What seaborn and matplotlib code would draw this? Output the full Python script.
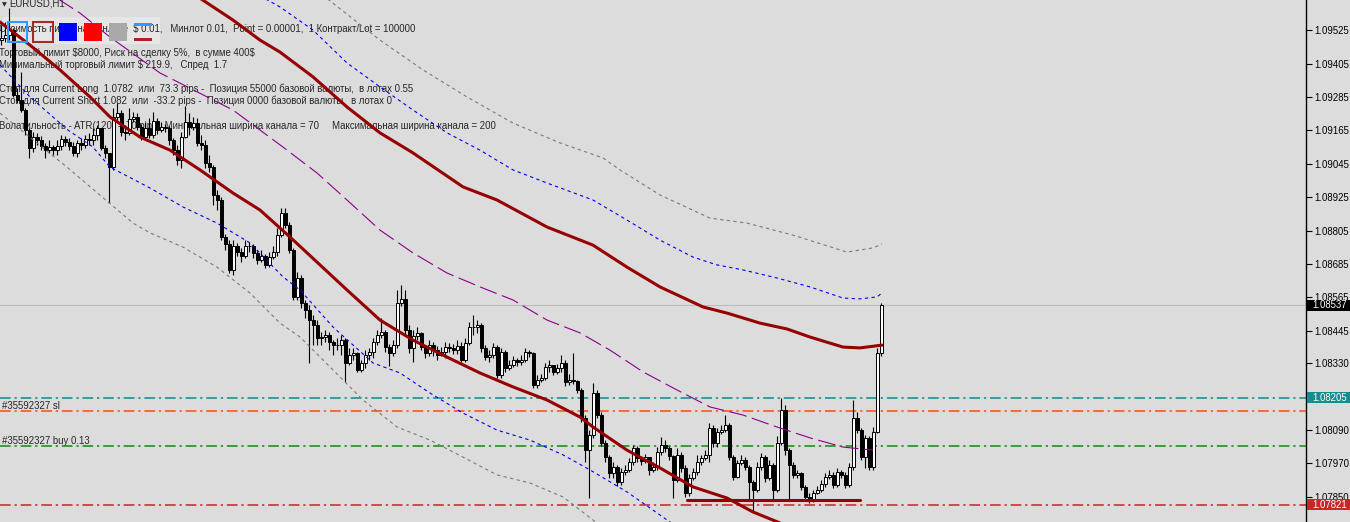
import numpy as np
import pandas as pd
import matplotlib
matplotlib.use("Agg")
import matplotlib.pyplot as plt
from matplotlib.patches import Rectangle
import seaborn as sns

sns.set_style("white", {"axes.facecolor": "#dcdcdc", "figure.facecolor": "#dcdcdc"})
plt.rcParams["font.family"] = ["Liberation Sans", "DejaVu Sans"]
plt.rcParams["text.parse_math"] = False

# ---- EURUSD H1 candles (prices) ----
first_open = 1.09489
closes = [
    1.09497, 1.09507, 1.09525, 1.09292, 1.09274, 1.09238, 1.09166, 1.09102, 1.09141, 1.09130,
    1.09109, 1.09094, 1.09105, 1.09094, 1.09109, 1.09134, 1.09123, 1.09109, 1.09084, 1.09120,
    1.09112, 1.09134, 1.09130, 1.09148, 1.09173, 1.09102, 1.09084, 1.09033, 1.09213, 1.09227,
    1.09159, 1.09156, 1.09206, 1.09213, 1.09177, 1.09141, 1.09173, 1.09148, 1.09199, 1.09166,
    1.09177, 1.09173, 1.09130, 1.09094, 1.09059, 1.09141, 1.09195, 1.09177, 1.09191, 1.09120,
    1.09112, 1.09048, 1.09033, 1.08933, 1.08915, 1.08782, 1.08757, 1.08664, 1.08750, 1.08728,
    1.08714, 1.08750, 1.08750, 1.08725, 1.08700, 1.08714, 1.08682, 1.08710, 1.08728, 1.08789,
    1.08868, 1.08825, 1.08735, 1.08567, 1.08635, 1.08545, 1.08520, 1.08484, 1.08466, 1.08420,
    1.08423, 1.08430, 1.08405, 1.08394, 1.08394, 1.08412, 1.08330, 1.08359, 1.08366, 1.08305,
    1.08330, 1.08359, 1.08369, 1.08405, 1.08430, 1.08441, 1.08387, 1.08366, 1.08394, 1.08545,
    1.08560, 1.08448, 1.08384, 1.08427, 1.08438, 1.08387, 1.08366, 1.08394, 1.08376, 1.08359,
    1.08369, 1.08387, 1.08384, 1.08376, 1.08391, 1.08341, 1.08402, 1.08459, 1.08459, 1.08466,
    1.08384, 1.08351, 1.08359, 1.08387, 1.08287, 1.08369, 1.08312, 1.08323, 1.08341, 1.08333,
    1.08341, 1.08369, 1.08366, 1.08251, 1.08269, 1.08276, 1.08315, 1.08323, 1.08298, 1.08312,
    1.08330, 1.08262, 1.08269, 1.08265, 1.08233, 1.08132, 1.08017, 1.08071, 1.08222, 1.08143,
    1.08043, 1.07992, 1.07935, 1.07956, 1.07903, 1.07939, 1.07946, 1.07974, 1.08025, 1.07989,
    1.07978, 1.07992, 1.07946, 1.07956, 1.08010, 1.08035, 1.08025, 1.07996, 1.07910, 1.08000,
    1.07953, 1.07863, 1.07917, 1.07939, 1.07974, 1.07989, 1.08000, 1.08097, 1.08043, 1.08082,
    1.08089, 1.08107, 1.07992, 1.07921, 1.07971, 1.07982, 1.07956, 1.07903, 1.07874, 1.07956,
    1.07992, 1.07917, 1.07964, 1.07874, 1.08043, 1.08161, 1.08017, 1.07964, 1.07928, 1.07935,
    1.07885, 1.07849, 1.07838, 1.07863, 1.07874, 1.07895, 1.07921, 1.07928, 1.07892, 1.07939,
    1.07928, 1.07892, 1.07956, 1.08132, 1.08089, 1.07992, 1.08061, 1.07956, 1.08082, 1.08366,
    1.08537,
]
highs = [
    1.09543, 1.09554, 1.09604, 1.09532, 1.09317, 1.09375, 1.09245, 1.09173, 1.09159, 1.09156,
    1.09145, 1.09120, 1.09130, 1.09112, 1.09130, 1.09148, 1.09145, 1.09138, 1.09123, 1.09130,
    1.09138, 1.09148, 1.09156, 1.09173, 1.09184, 1.09173, 1.09112, 1.09059, 1.09245, 1.09263,
    1.09238, 1.09184, 1.09245, 1.09231, 1.09227, 1.09188, 1.09195, 1.09209, 1.09231, 1.09209,
    1.09195, 1.09188, 1.09181, 1.09138, 1.09112, 1.09159, 1.09252, 1.09227, 1.09213, 1.09209,
    1.09148, 1.09130, 1.09077, 1.09041, 1.08951, 1.08926, 1.08793, 1.08771, 1.08771, 1.08761,
    1.08743, 1.08771, 1.08764, 1.08757, 1.08735, 1.08735, 1.08721, 1.08728, 1.08750, 1.08814,
    1.08886, 1.08886, 1.08836, 1.08743, 1.08657, 1.08646, 1.08556, 1.08538, 1.08502, 1.08484,
    1.08441, 1.08448, 1.08441, 1.08412, 1.08420, 1.08430, 1.08420, 1.08384, 1.08384, 1.08369,
    1.08341, 1.08376, 1.08384, 1.08420, 1.08448, 1.08491, 1.08448, 1.08398, 1.08412, 1.08592,
    1.08610, 1.08592, 1.08466, 1.08448, 1.08459, 1.08441, 1.08394, 1.08412, 1.08405, 1.08391,
    1.08387, 1.08405, 1.08402, 1.08398, 1.08412, 1.08405, 1.08420, 1.08477, 1.08502, 1.08484,
    1.08473, 1.08394, 1.08376, 1.08402, 1.08394, 1.08384, 1.08376, 1.08341, 1.08355, 1.08348,
    1.08359, 1.08384, 1.08376, 1.08369, 1.08287, 1.08290, 1.08330, 1.08341, 1.08323, 1.08326,
    1.08359, 1.08341, 1.08290, 1.08366, 1.08269, 1.08240, 1.08143, 1.08089, 1.08258, 1.08233,
    1.08154, 1.08053, 1.08000, 1.07974, 1.07964, 1.07953, 1.07964, 1.07989, 1.08035, 1.08032,
    1.07996, 1.08003, 1.07989, 1.07974, 1.08028, 1.08064, 1.08053, 1.08032, 1.08000, 1.08025,
    1.08010, 1.07964, 1.07931, 1.07953, 1.08000, 1.08000, 1.08017, 1.08114, 1.08107, 1.08097,
    1.08107, 1.08143, 1.08114, 1.08000, 1.07982, 1.08000, 1.07992, 1.07964, 1.07910, 1.07974,
    1.08007, 1.08000, 1.07982, 1.07971, 1.08068, 1.08204, 1.08179, 1.08025, 1.07974, 1.07946,
    1.07939, 1.07892, 1.07863, 1.07874, 1.07888, 1.07910, 1.07935, 1.07946, 1.07939, 1.07953,
    1.07946, 1.07939, 1.07971, 1.08197, 1.08154, 1.08097, 1.08071, 1.08068, 1.08100, 1.08384,
    1.08545,
]
lows = [
    1.09471, 1.09482, 1.09489, 1.09285, 1.09263, 1.09231, 1.09148, 1.09066, 1.09087, 1.09112,
    1.09094, 1.09066, 1.09084, 1.09077, 1.09077, 1.09094, 1.09109, 1.09094, 1.09073, 1.09069,
    1.09094, 1.09102, 1.09112, 1.09112, 1.09130, 1.09094, 1.09066, 1.08904, 1.09023, 1.09202,
    1.09145, 1.09130, 1.09148, 1.09195, 1.09166, 1.09130, 1.09130, 1.09138, 1.09138, 1.09152,
    1.09159, 1.09159, 1.09112, 1.09077, 1.09041, 1.09030, 1.09138, 1.09148, 1.09166, 1.09109,
    1.09094, 1.09030, 1.09016, 1.08897, 1.08879, 1.08771, 1.08735, 1.08653, 1.08646, 1.08714,
    1.08692, 1.08707, 1.08728, 1.08707, 1.08685, 1.08692, 1.08671, 1.08674, 1.08703, 1.08714,
    1.08782, 1.08814, 1.08725, 1.08556, 1.08556, 1.08527, 1.08491, 1.08330, 1.08394, 1.08394,
    1.08394, 1.08405, 1.08376, 1.08359, 1.08376, 1.08359, 1.08262, 1.08323, 1.08341, 1.08298,
    1.08298, 1.08312, 1.08341, 1.08348, 1.08394, 1.08420, 1.08369, 1.08319, 1.08355, 1.08384,
    1.08534, 1.08434, 1.08366, 1.08333, 1.08412, 1.08376, 1.08348, 1.08355, 1.08355, 1.08341,
    1.08355, 1.08348, 1.08369, 1.08362, 1.08362, 1.08333, 1.08333, 1.08394, 1.08430, 1.08438,
    1.08369, 1.08341, 1.08333, 1.08348, 1.08276, 1.08276, 1.08298, 1.08305, 1.08315, 1.08319,
    1.08323, 1.08333, 1.08351, 1.08240, 1.08240, 1.08262, 1.08269, 1.08298, 1.08287, 1.08290,
    1.08298, 1.08247, 1.08251, 1.08254, 1.08222, 1.08118, 1.07974, 1.07845, 1.08061, 1.08132,
    1.08032, 1.07974, 1.07917, 1.07917, 1.07888, 1.07892, 1.07928, 1.07939, 1.07964, 1.07974,
    1.07964, 1.07971, 1.07928, 1.07939, 1.07946, 1.08000, 1.08010, 1.07982, 1.07845, 1.07903,
    1.07939, 1.07849, 1.07852, 1.07910, 1.07928, 1.07964, 1.07982, 1.07974, 1.08028, 1.08028,
    1.08075, 1.08082, 1.07982, 1.07910, 1.07917, 1.07964, 1.07946, 1.07838, 1.07795, 1.07867,
    1.07946, 1.07903, 1.07910, 1.07838, 1.07867, 1.08035, 1.08000, 1.07838, 1.07917, 1.07917,
    1.07874, 1.07838, 1.07827, 1.07831, 1.07860, 1.07867, 1.07885, 1.07913, 1.07881, 1.07885,
    1.07917, 1.07881, 1.07885, 1.07946, 1.08079, 1.07982, 1.07953, 1.07946, 1.07946, 1.08079,
    1.08355,
]

# ---- indicator lines: bar position, price ----
ma_fast_bar = [-0.25, 7.25, 14.75, 22.25, 27.25, 34.75, 42.25, 49.75, 58, 64.75, 72.25, 79.75, 86.5,
               94.75, 103, 111.5, 119.75, 128, 136.5, 144.75, 148, 156.5, 164.75, 173, 181.5, 188, 197.25]
ma_fast = [1.09554, 1.09471, 1.09382, 1.09285, 1.09213, 1.09141, 1.09094, 1.09023, 1.08940, 1.08879,
           1.08782, 1.08682, 1.08592, 1.08484, 1.08412, 1.08351, 1.08294, 1.08244, 1.08197, 1.08136,
           1.08100, 1.08017, 1.07953, 1.07885, 1.07845, 1.07795, 1.07741]

ma_slow_bar = [49.25, 58, 64.75, 69.75, 78, 86.5, 94.75, 103, 115.5, 124, 136.5, 148, 156.5, 164.75,
               175.5, 181.5, 189.75, 196.5, 202.25, 210.5, 214.75, 220.25]
ma_slow = [1.09644, 1.09561, 1.09489, 1.09446, 1.09357, 1.09249, 1.09156, 1.09084, 1.08962, 1.08915,
           1.08818, 1.08753, 1.08674, 1.08603, 1.08531, 1.08509, 1.08473, 1.08452, 1.08423, 1.08387,
           1.08384, 1.08394]

blue_up_bar = [65.25, 69.75, 78, 86.5, 94.75, 103, 111.5, 119.75, 128, 136.5, 148, 156.5, 164.75,
               173, 179, 185.5, 194, 202.25, 210.5, 214.75, 219, 220.25]
blue_up = [1.09644, 1.09608, 1.09525, 1.09407, 1.09321, 1.09238, 1.09156, 1.09094, 1.09023, 1.08976,
           1.08915, 1.08843, 1.08771, 1.08710, 1.08682, 1.08664, 1.08635, 1.08603, 1.08563, 1.08560,
           1.08567, 1.08581]

grey_up_bar = [81, 94.75, 105.5, 116.5, 128, 139.75, 150.5, 154.75, 164.75, 177.25, 186.5, 198,
               211.5, 218, 220.25]
grey_up = [1.09644, 1.09489, 1.09382, 1.09285, 1.09191, 1.09120, 1.09066, 1.09023, 1.08933, 1.08850,
           1.08832, 1.08789, 1.08728, 1.08743, 1.08757]

purple_bar = [13.5, 19.75, 27.25, 39.75, 58, 70.5, 79, 86.5, 94.75, 103, 111.5, 119.75, 128, 136.5,
              144.75, 152.25, 160.5, 169, 177.25, 185.5, 194, 202.25, 210.5, 218]
purple = [1.09644, 1.09586, 1.09500, 1.09371, 1.09238, 1.09105, 1.09012, 1.08915, 1.08807, 1.08725,
          1.08653, 1.08603, 1.08556, 1.08484, 1.08438, 1.08376, 1.08298, 1.08233, 1.08172, 1.08143,
          1.08100, 1.08061, 1.08028, 1.08017]

blue_dn_bar = [-0.25, 7.25, 16.75, 23, 27.25, 37.25, 45.5, 54, 62.25, 70.5, 74.75, 83, 93, 99.75,
               107.25, 115.5, 124, 132.25, 140.5, 147.25, 156.5, 167.25, 172.25]
blue_dn = [1.09400, 1.09285, 1.09166, 1.09105, 1.09033, 1.08958, 1.08890, 1.08832, 1.08761, 1.08639,
           1.08592, 1.08459, 1.08330, 1.08294, 1.08222, 1.08150, 1.08089, 1.08053, 1.08000, 1.07946,
           1.07867, 1.07759, 1.07716]

grey_dn_bar = [-0.25, 16.5, 33, 37.25, 45.5, 54, 62.25, 69.75, 74.75, 83, 90.5, 99, 107.25, 115.5,
               124, 132.25, 140.5, 148, 151]
grey_dn = [1.09227, 1.09033, 1.08832, 1.08797, 1.08746, 1.08674, 1.08581, 1.08473, 1.08423, 1.08305,
           1.08197, 1.08100, 1.08053, 1.07992, 1.07928, 1.07899, 1.07849, 1.07766, 1.07730]

support_bar = [171.5, 214.75]
support_price = 1.07838

bid = 1.08537
tp_level = 1.08205
sl_level = 1.08158
buy_level = 1.08032
stop_level = 1.07821

tick_prices = [1.09525, 1.09405, 1.09285, 1.09165, 1.09045, 1.08925, 1.08805, 1.08685, 1.08565,
               1.08445, 1.08330, 1.08090, 1.07970, 1.07850]

info_lines = [
    "Стоимость пипса на минлоте  $ 0.01,   Минлот 0.01,  Point = 0.00001,  1 Контракт/Lot = 100000",
    "Торговый лимит $8000, Риск на сделку 5%,  в сумме 400$",
    "Минимальный торговый лимит $ 219.9,   Спред  1.7",
    "Стоп для Current Long  1.0782  или  73.3 pips -  Позиция 55000 базовой валюты,  в лотах 0.55",
    "Стоп для Current Short 1.082  или  -33.2 pips -  Позиция 0000 базовой валюты,  в лотах 0",
    "Волатильность - ATR(120) = 70 pips   Минимальная ширина канала = 70     Максимальная ширина канала = 200",
]
info_y = [29, 53, 65, 89, 101, 126]

W, H = 1350, 522
FS = 6.9
fig = plt.figure(figsize=(W / 100, H / 100), dpi=100)
ax = fig.add_axes([0, 0, 1306 / W, 1])
ax.set_facecolor("#dcdcdc")
ax.set_xlim(-0.25, 326.25)
ax.set_ylim(1.07759, 1.09633)


def fx(x):
    return x / W


def fy(y):
    return 1 - y / H


# candles
df = pd.DataFrame({"close": closes, "high": highs, "low": lows})
df["open"] = [first_open] + closes[:-1]
df["bar"] = np.arange(len(df))
df["high"] = df[["high", "open", "close"]].max(axis=1)
df["low"] = df[["low", "open", "close"]].min(axis=1)
up = df["close"] >= df["open"]
ax.vlines(df["bar"], df["low"], df["high"], color="black", lw=0.8, zorder=3)
ax.bar(df["bar"], df["close"] - df["open"], bottom=df["open"], width=0.75,
       color=np.where(up, "white", "black"), edgecolor="black", linewidth=0.7, zorder=3.5)

# horizontal order lines
dashdot = (0, (7, 2.5, 1.5, 2.5))
ax.axhline(bid, color="#bdbdbd", lw=0.8, zorder=2)
ax.axhline(tp_level, color="#0a8a8a", lw=1.1, ls=dashdot, zorder=2)
ax.axhline(sl_level, color="#ff4a10", lw=1.1, ls=dashdot, zorder=2)
ax.axhline(buy_level, color="#108a10", lw=1.1, ls=dashdot, zorder=2)
ax.axhline(stop_level, color="#d0202a", lw=1.1, ls=dashdot, zorder=2)

# indicator lines
sns.lineplot(x=grey_up_bar, y=grey_up, ax=ax, color="#7a7a7a", lw=0.8, ls=(0, (3, 3)), sort=False, zorder=4)
sns.lineplot(x=grey_dn_bar, y=grey_dn, ax=ax, color="#7a7a7a", lw=0.8, ls=(0, (3, 3)), sort=False, zorder=4)
sns.lineplot(x=blue_up_bar, y=blue_up, ax=ax, color="#0000ee", lw=0.8, ls=(0, (3, 3)), sort=False, zorder=4)
sns.lineplot(x=blue_dn_bar, y=blue_dn, ax=ax, color="#0000ee", lw=0.8, ls=(0, (3, 3)), sort=False, zorder=4)
sns.lineplot(x=purple_bar, y=purple, ax=ax, color="#8b008b", lw=0.8, ls=(0, (16, 5)), sort=False, zorder=4)
sns.lineplot(x=ma_slow_bar, y=ma_slow, ax=ax, color="#960000", lw=2.2, sort=False, zorder=4.5)
sns.lineplot(x=ma_fast_bar, y=ma_fast, ax=ax, color="#960000", lw=2.2, sort=False, zorder=4.5)
sns.lineplot(x=support_bar, y=[support_price, support_price], ax=ax, color="#960000", lw=2.2,
             sort=False, zorder=5)

# price scale on the right
ax.yaxis.tick_right()
ax.set_yticks(tick_prices)
ax.set_yticklabels([f"{p:.5f}" for p in tick_prices])
ax.tick_params(axis="y", direction="out", length=4, width=0.8, labelsize=FS, pad=2,
               colors="black", right=True, left=False)
ax.set_xticks([])
ax.set_xlabel("")
ax.set_ylabel("")
for s in ["left", "top", "bottom"]:
    ax.spines[s].set_visible(False)
ax.spines["right"].set_color("black")
ax.spines["right"].set_linewidth(1)

ytr = ax.get_yaxis_transform()
for price, bg in [(bid, "black"), (tp_level, "#138d8d"), (stop_level, "#c62828")]:
    ax.add_patch(Rectangle((1 + 1 / 1306, price - 0.0002), 43 / 1306, 0.0004, transform=ytr,
                           facecolor=bg, edgecolor="none", clip_on=False, zorder=10))
    ax.text(1 + 6 / 1306, price, f"{price:.5f}", transform=ytr, ha="left", va="center",
            color="white", fontsize=FS, clip_on=False, zorder=11)

# chart title, info text and buttons
tf = fig.transFigure
ax.text(fx(2), fy(5), "▼", transform=tf, fontsize=4.5, va="center", ha="left",
        family="DejaVu Sans", zorder=1)
ax.text(fx(9), fy(4), "EURUSD,H1", transform=tf, fontsize=FS, va="center", ha="left", zorder=1)
ax.add_patch(Rectangle((fx(3), fy(44)), 157 / W, 27 / H, transform=tf, facecolor="#e6e6e6",
                       edgecolor="none", zorder=0.5))
for txt, yy in zip(info_lines, info_y):
    ax.text(fx(-1), fy(yy), txt, transform=tf, fontsize=FS, va="center", ha="left", zorder=1)
ax.text(fx(2), fy(406), "#35592327 sl", transform=tf, fontsize=FS, va="center", ha="left", zorder=1)
ax.text(fx(2), fy(441), "#35592327 buy 0.13", transform=tf, fontsize=FS, va="center", ha="left", zorder=1)

buttons = [
    (8, 22, 27, 42, "none", "#3399ff"),
    (33, 22, 53, 42, "none", "#a52a2a"),
    (59, 23, 77, 41, "#0000ff", "none"),
    (84, 23, 102, 41, "#ff0000", "none"),
    (109, 23, 127, 41, "#a9a9a9", "none"),
]
for x0, y0, x1, y1, fc, ec in buttons:
    ax.add_patch(Rectangle((fx(x0), fy(y1)), (x1 - x0) / W, (y1 - y0) / H, transform=tf,
                           facecolor=fc, edgecolor=ec, lw=1.5, zorder=6))
ax.add_patch(Rectangle((fx(134), fy(26)), 18 / W, 2.5 / H, transform=tf, facecolor="#3399ff",
                       edgecolor="none", zorder=6))
ax.add_patch(Rectangle((fx(134), fy(41)), 18 / W, 3 / H, transform=tf, facecolor="#b22222",
                       edgecolor="none", zorder=6))

fig.savefig("out.png", dpi=100, facecolor="#dcdcdc")
